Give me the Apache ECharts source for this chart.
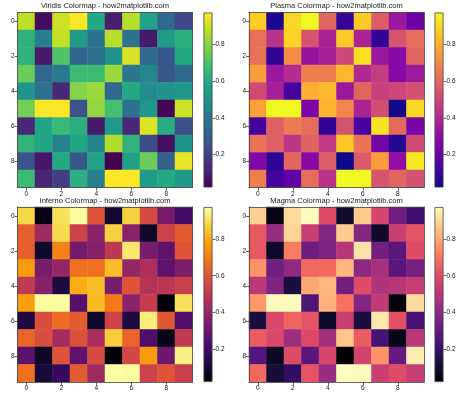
<!DOCTYPE html>
<html>
<head>
<meta charset="utf-8">
<script src="https://cdn.jsdelivr.net/npm/echarts@6/dist/echarts.min.js"></script>
<style>
html,body{margin:0;padding:0;background:#fff;}
#c{width:474px;height:395px;}
</style>
</head>
<body>
<div id="c"></div>
<script>
// ---- data ----
const xLabels = ['0','1','2','3','4','5','6','7','8','9'];
const yLabels = ['0','1','2','3','4','5','6','7','8','9'];
const row0 = [0.88, 0.05, 0.90, 0.97, 0.60, 0.10, 0.87, 0.57, 0.34, 0.22];
const row1 = [0.63, 0.43, 0.89, 0.54, 0.38, 0.87, 0.38, 0.09, 0.54, 0.62];
const row2 = [0.63, 0.09, 0.71, 0.33, 0.37, 0.50, 0.92, 0.34, 0.28, 0.60];
const row3 = [0.76, 0.34, 0.41, 0.67, 0.67, 0.83, 0.40, 0.46, 0.28, 0.35];
const row4 = [0.51, 0.37, 0.13, 0.80, 0.83, 0.34, 0.60, 0.48, 0.50, 0.53];
const row5 = [0.77, 0.97, 0.97, 0.26, 0.82, 0.69, 0.38, 0.52, 0.03, 0.90];
const row6 = [0.13, 0.58, 0.66, 0.62, 0.09, 0.54, 0.13, 0.93, 0.61, 0.25];
const row7 = [0.64, 0.58, 0.44, 0.59, 0.45, 0.86, 0.64, 0.24, 0.06, 0.51];
const row8 = [0.27, 0.08, 0.60, 0.28, 0.57, 0.02, 0.56, 0.76, 0.31, 0.94];
const row9 = [0.67, 0.12, 0.19, 0.62, 0.43, 0.975, 0.97, 0.54, 0.60, 0.53];
const rows = [row0,row1,row2,row3,row4,row5,row6,row7,row8,row9];
const titles = ['Viridis Colormap - how2matplotlib.com','Plasma Colormap - how2matplotlib.com','Inferno Colormap - how2matplotlib.com','Magma Colormap - how2matplotlib.com'];
const cbTicks = [0.2, 0.4, 0.6, 0.8];

// ---- colormaps (palette) ----
const cmaps = [
 ['#440154','#482475','#414487','#355f8d','#2a788e','#21918c','#22a884','#44bf70','#7ad151','#bddf26','#fde725'],
 ['#0d0887','#41049d','#6a00a8','#8f0da4','#b12a90','#cc4778','#e16462','#f2844b','#fca636','#fcce25','#f0f921'],
 ['#000004','#160b39','#420a68','#6a176e','#932667','#bc3754','#dd513a','#f37819','#fca50a','#f6d746','#fcffa4'],
 ['#000004','#140e36','#3b0f70','#641a80','#8c2981','#b73779','#de4968','#f7705c','#fe9f6d','#fecf92','#fcfdbf']
];

const cells = [];
rows.forEach((r, y) => r.forEach((v, x) => cells.push([x, y, v])));
const all = rows.flat();
const vmin = Math.min(...all), vmax = Math.max(...all);

const FONT = 'Liberation Sans';
const TXT = '#222';
const LINE = '#444';
const pos = [
  {l: 17.5, t: 12.5, cb: 203.5},
  {l: 249,  t: 12.5, cb: 434.5},
  {l: 17.5, t: 207,  cb: 203.5},
  {l: 249,  t: 207,  cb: 434.5}
];
const W = 175, H = 175, CBW = 9;

const grid = [], xAxis = [], yAxis = [], series = [], visualMap = [], title = [];
pos.forEach((p, i) => {
  grid.push({left: p.l, top: p.t, width: W, height: H});
  grid.push({left: p.cb, top: p.t, width: CBW, height: H});
  const g = 2*i, gc = 2*i+1;
  xAxis.push({type:'category', gridIndex:g, data:xLabels, position:'bottom', z:10,
    axisLine:{show:true, lineStyle:{color:LINE, width:0.8}},
    axisTick:{show:true, interval:1, alignWithLabel:true, length:3, lineStyle:{color:LINE, width:0.8}},
    axisLabel:{interval:1, fontSize:6.5, fontFamily:FONT, color:TXT, margin:3},
    splitLine:{show:false}});
  xAxis.push({type:'category', gridIndex:g, data:xLabels, position:'top', z:10,
    axisLine:{show:true, lineStyle:{color:LINE, width:0.8}}, axisTick:{show:false}, axisLabel:{show:false}});
  xAxis.push({type:'category', gridIndex:gc, data:['cb'], show:false});
  yAxis.push({type:'category', gridIndex:g, data:yLabels, inverse:true, position:'left', z:10,
    axisLine:{show:true, lineStyle:{color:LINE, width:0.8}},
    axisTick:{show:true, interval:1, alignWithLabel:true, length:3, lineStyle:{color:LINE, width:0.8}},
    axisLabel:{interval:1, fontSize:6.5, fontFamily:FONT, color:TXT, margin:3},
    splitLine:{show:false}});
  yAxis.push({type:'category', gridIndex:g, data:yLabels, inverse:true, position:'right', z:10,
    axisLine:{show:true, lineStyle:{color:LINE, width:0.8}}, axisTick:{show:false}, axisLabel:{show:false}});
  yAxis.push({type:'value', gridIndex:gc, min:vmin, max:vmax, position:'right', z:10,
    axisLine:{show:false}, splitLine:{show:false},
    axisTick:{show:true, length:3, customValues:cbTicks, lineStyle:{color:LINE, width:0.8}},
    axisLabel:{show:true, customValues:cbTicks, fontSize:6.5, fontFamily:FONT, color:TXT, margin:3,
      formatter: v => v.toFixed(1)}});
  title.push({text: titles[i], left: p.l + W/2, top: p.t - 10.5, textAlign:'center', padding:0,
    textStyle:{fontSize:7.5, fontWeight:'normal', fontFamily:FONT, color:TXT}});
});

// heatmap series (indices 0..3)
pos.forEach((p, i) => {
  series.push({type:'heatmap', xAxisIndex:3*i, yAxisIndex:3*i, data:cells, progressive:0,
    itemStyle:{borderWidth:0}, emphasis:{disabled:true}});
  visualMap.push({type:'continuous', show:false, seriesIndex:i, min:vmin, max:vmax,
    inRange:{color:cmaps[i]}});
});

// colorbar bars
pos.forEach((p, i) => {
  const stops = cmaps[i].map((c, k) => ({offset: k/(cmaps[i].length-1), color: c}));
  series.push({type:'bar', xAxisIndex:3*i+2, yAxisIndex:3*i+2, stack:'cb'+i, barWidth:'100%',
    data:[vmin], itemStyle:{color:'rgba(0,0,0,0)'}, silent:true});
  series.push({type:'bar', xAxisIndex:3*i+2, yAxisIndex:3*i+2, stack:'cb'+i, barWidth:'100%',
    data:[vmax - vmin], silent:true,
    itemStyle:{color:new echarts.graphic.LinearGradient(0,1,0,0,stops), borderColor:LINE, borderWidth:0.8}});
});

const chart = echarts.init(document.getElementById('c'), null, {renderer:'canvas'});
chart.setOption({animation:false, backgroundColor:'#fff', title, grid, xAxis, yAxis, visualMap, series});
</script>
</body>
</html>
